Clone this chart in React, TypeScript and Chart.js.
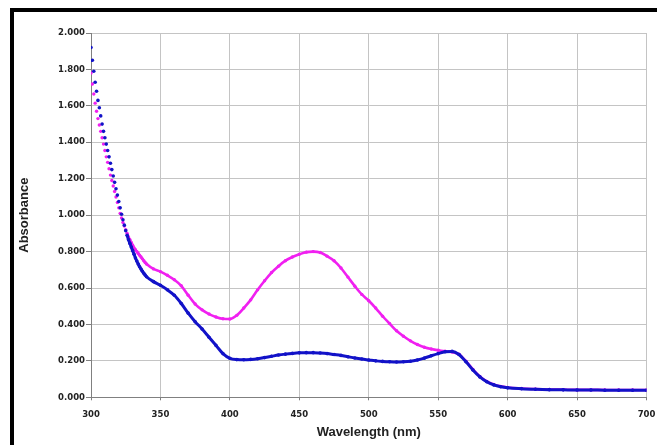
import React, { useEffect, useRef } from "react";
import { Chart, registerables } from "chart.js";

Chart.register(...registerables);

const wavelengths: number[] = [
  300, 301, 302, 303, 304, 305, 306, 307, 308, 309, 310, 311, 312, 313, 314, 315, 316, 317, 318, 319, 320,
  321, 322, 323, 324, 325, 326, 327, 328, 329, 330, 331, 332, 333, 334, 335, 336, 337, 338, 339, 340,
  345, 350, 355, 360, 365, 370, 375, 380, 385, 390, 395, 400, 405, 410, 415, 420, 425, 430, 435, 440,
  445, 450, 455, 460, 465, 470, 475, 480, 485, 490, 495, 500, 505, 510, 515, 520, 525, 530, 535, 540,
  545, 550, 555, 560, 565, 570, 575, 580, 585, 590, 595, 600,
  610, 620, 630, 640, 650, 660, 670, 680, 690, 700,
];

const blueSeries: number[] = [
  1.92, 1.85, 1.79, 1.73, 1.68, 1.63, 1.59, 1.545, 1.5, 1.46, 1.425, 1.39, 1.355, 1.32, 1.285, 1.25, 1.215, 1.18, 1.145, 1.11, 1.075,
  1.04, 1.005, 0.975, 0.945, 0.915, 0.89, 0.865, 0.845, 0.825, 0.805, 0.785, 0.765, 0.748, 0.732, 0.717, 0.704, 0.692, 0.681, 0.671, 0.662,
  0.635, 0.615, 0.59, 0.56, 0.515, 0.462, 0.415, 0.375, 0.33, 0.285, 0.24, 0.214, 0.207, 0.206, 0.208, 0.212, 0.218, 0.225, 0.232, 0.237,
  0.241, 0.244, 0.245, 0.245, 0.243, 0.24, 0.235, 0.23, 0.223, 0.216, 0.21, 0.205, 0.2, 0.197, 0.195, 0.194, 0.195, 0.198, 0.205, 0.215,
  0.228, 0.24, 0.25, 0.252, 0.235, 0.195, 0.15, 0.112, 0.085, 0.068, 0.058, 0.052,
  0.047, 0.044, 0.042, 0.041, 0.04, 0.04, 0.039, 0.039, 0.039, 0.039,
];

const magentaSeries: number[] = [
  1.78, 1.72, 1.665, 1.615, 1.57, 1.53, 1.495, 1.46, 1.425, 1.39, 1.355, 1.32, 1.29, 1.255, 1.22, 1.19, 1.16, 1.13, 1.1, 1.07, 1.04,
  1.01, 0.985, 0.96, 0.94, 0.92, 0.9, 0.88, 0.865, 0.85, 0.835, 0.82, 0.81, 0.8, 0.79, 0.78, 0.77, 0.76, 0.75, 0.74, 0.732,
  0.705, 0.69, 0.67, 0.645, 0.612, 0.56, 0.512, 0.48, 0.457, 0.441, 0.431, 0.43, 0.45, 0.49, 0.535, 0.59, 0.64, 0.685, 0.72, 0.75,
  0.77, 0.785, 0.797, 0.8, 0.795, 0.775, 0.75, 0.71, 0.66, 0.61, 0.565, 0.53, 0.49, 0.445, 0.405, 0.365, 0.335, 0.31, 0.29, 0.275,
  0.265, 0.258, 0.253, 0.249, 0.236, 0.198, 0.153, 0.114, 0.087, 0.07, 0.06, 0.054,
  0.048, 0.045, 0.043, 0.042, 0.041, 0.041, 0.04, 0.04, 0.04, 0.04,
];

const xTitle = "Wavelength (nm)";
const yTitle = "Absorbance";
const xMin = 300;
const xMax = 700;
const xStep = 50;
const yMin = 0;
const yMax = 2;
const yStep = 0.2;

const BLUE = "#1212c8";
const MAGENTA = "#f020f0";

export default function App() {
  const canvasRef = useRef<HTMLCanvasElement | null>(null);

  useEffect(() => {
    document.body.style.margin = "0";
    const canvas = canvasRef.current;
    if (!canvas) return;

    const toPoints = (vals: number[]) => wavelengths.map((w, i) => ({ x: w, y: vals[i] }));
    const dotCutoff = 326;

    const chart = new Chart(canvas, {
      type: "scatter",
      data: {
        datasets: [
          {
            label: "blue",
            data: toPoints(blueSeries),
            showLine: true,
            borderColor: BLUE,
            backgroundColor: BLUE,
            borderWidth: 3,
            cubicInterpolationMode: "monotone",
            pointRadius: 1.8,
            pointBorderWidth: 0,
            segment: {
              borderColor: (ctx: any) => (ctx.p0.parsed.x < dotCutoff ? "rgba(0,0,0,0)" : BLUE),
            },
          },
          {
            label: "magenta",
            data: toPoints(magentaSeries),
            showLine: true,
            borderColor: MAGENTA,
            backgroundColor: MAGENTA,
            borderWidth: 2.6,
            cubicInterpolationMode: "monotone",
            pointRadius: 1.7,
            pointBorderWidth: 0,
            segment: {
              borderColor: (ctx: any) => (ctx.p0.parsed.x < dotCutoff ? "rgba(0,0,0,0)" : MAGENTA),
            },
          },
        ],
      },
      options: {
        animation: false,
        responsive: false,
        devicePixelRatio: 1,
        layout: { padding: { left: 0, top: 33, right: 10.5, bottom: 0 } },
        plugins: {
          legend: { display: false },
          tooltip: { enabled: false },
        },
        scales: {
          x: {
            type: "linear",
            min: xMin,
            max: xMax,
            ticks: {
              stepSize: xStep,
              color: "#222",
              padding: 9,
              font: { family: "DejaVu Sans", size: 8.5, weight: "bold" },
            },
            grid: { color: "#c4c4c4", lineWidth: 1, tickLength: 3, tickColor: "#808080" },
            border: { color: "#808080", width: 1 },
            title: {
              display: true,
              text: xTitle,
              color: "#222",
              padding: { top: 2, bottom: 5 },
              font: { family: "Liberation Sans", size: 13, weight: "bold" },
            },
            afterFit: (scale: any) => {
              scale.height = 47.7;
              scale.paddingLeft = 0;
              scale.paddingRight = 0;
            },
          },
          y: {
            type: "linear",
            min: yMin,
            max: yMax,
            ticks: {
              stepSize: yStep,
              color: "#222",
              padding: 1,
              font: { family: "DejaVu Sans", size: 8.5, weight: "bold" },
              callback: (v: any) => Number(v).toFixed(3),
            },
            grid: { color: "#c4c4c4", lineWidth: 1, tickLength: 5, tickColor: "#808080" },
            border: { color: "#808080", width: 1 },
            title: {
              display: true,
              text: yTitle,
              color: "#222",
              padding: { top: 17, bottom: 2 },
              font: { family: "Liberation Sans", size: 13, weight: "bold" },
            },
            afterFit: (scale: any) => {
              scale.width = 91;
              scale.paddingTop = 0;
              scale.paddingBottom = 0;
            },
          },
        },
      },
    });

    return () => chart.destroy();
  }, []);

  return (
    <div style={{ position: "relative", width: 657, height: 445, overflow: "hidden", background: "#fff" }}>
      <canvas ref={canvasRef} width={657} height={445} style={{ position: "absolute", left: 0, top: 0 }} />
      <div
        style={{
          position: "absolute",
          left: 10,
          top: 8,
          width: 700,
          height: 500,
          borderLeft: "4px solid #000",
          borderTop: "4px solid #000",
          pointerEvents: "none",
        }}
      />
    </div>
  );
}
